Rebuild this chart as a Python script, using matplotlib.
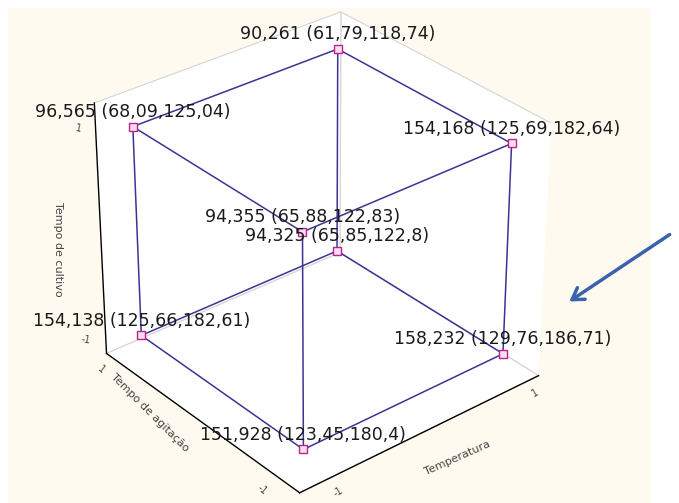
import itertools
import numpy as np
import matplotlib
matplotlib.use("Agg")
import matplotlib.pyplot as plt
from matplotlib.patches import Rectangle, FancyArrowPatch
from matplotlib.transforms import offset_copy
from mpl_toolkits.mplot3d import proj3d

# Coded factor levels of the 2^3 design (one entry per cube corner)
temperatura = [-1, 1, -1, 1, -1, 1, -1, 1]
tempo_agitacao = [-1, -1, 1, 1, -1, -1, 1, 1]
tempo_cultivo = [-1, -1, -1, -1, 1, 1, 1, 1]

# Predicted mean and confidence limits at each corner
media = [151.928, 158.232, 154.138, 94.325, 94.355, 154.168, 96.565, 90.261]
limite_inf = [123.45, 129.76, 125.66, 65.85, 65.88, 125.69, 68.09, 61.79]
limite_sup = [180.4, 186.71, 182.61, 122.8, 122.83, 182.64, 125.04, 118.74]

niveis = [-1, 1]
rotulos_niveis = ["-1", "1"]

plt.rcParams["font.family"] = ["DejaVu Sans"]


def br(v):
    return f"{v:g}".replace(".", ",")


fig = plt.figure(figsize=(6.79, 5.03), dpi=100)
fig.patch.set_facecolor("white")
fig.add_artist(Rectangle((8 / 679, 0), 643 / 679, 495 / 503,
                         transform=fig.transFigure, facecolor="#fefaef",
                         edgecolor="none", zorder=-10))

ax = fig.add_axes([-0.012, 0.005, 0.95, 1.0], projection="3d",
                  computed_zorder=False)
ax.patch.set_alpha(0)
ax.set_box_aspect((1, 1, 0.93), zoom=1.03)
ax.view_init(elev=31, azim=-129.7)
lim = (-1.2, 1.2)
ax.set_xlim(lim)
ax.set_ylim(lim)
ax.set_zlim(lim)
ax.grid(False)

for axis in (ax.xaxis, ax.yaxis, ax.zaxis):
    axis.set_pane_color((1, 1, 1, 1))
    axis.pane.set_edgecolor("#d4d4d4")
    axis.pane.set_linewidth(0.8)
    axis.line.set_color("black")
    axis.line.set_linewidth(1.0)
    axis.set_ticks(niveis)
    axis.set_ticklabels(["", ""])
ax.tick_params(axis="both", color=(0, 0, 0, 0))

# cube edges: corners differing in exactly one factor
pts = list(zip(temperatura, tempo_agitacao, tempo_cultivo))
for i, j in itertools.combinations(range(len(pts)), 2):
    if sum(a != b for a, b in zip(pts[i], pts[j])) == 1:
        ax.plot([pts[i][0], pts[j][0]], [pts[i][1], pts[j][1]],
                [pts[i][2], pts[j][2]], color="#3a3593", lw=1.1, zorder=2)

ax.plot(temperatura, tempo_agitacao, tempo_cultivo, ls="none", marker="s",
        ms=6, mec="#c0208a", mfc="#f8e0f2", mew=1.0, zorder=3)

# project points to the 2D plane of the axes once the layout is fixed
fig.canvas.draw()
M = ax.get_proj()


def project(xs, ys, zs):
    x2, y2, _ = proj3d.proj_transform(np.asarray(xs, float),
                                      np.asarray(ys, float),
                                      np.asarray(zs, float), M)
    return x2, y2


px, py = project(temperatura, tempo_agitacao, tempo_cultivo)
lbl_tr = offset_copy(ax.transData, fig=fig, x=0, y=4, units="points")
for x2, y2, m, lo, hi in zip(px, py, media, limite_inf, limite_sup):
    ax.text2D(x2, y2, f"{br(m)} ({br(lo)},{br(hi)})", ha="center",
              va="bottom", fontsize=12.5, color="#1a1a1a", transform=lbl_tr,
              zorder=4)


def place(xyz, text, dx, dy, rot, size):
    x2, y2 = project(*[[v] for v in xyz])
    tr = offset_copy(ax.transData, fig=fig, x=dx, y=dy, units="dots")
    ax.text2D(x2[0], y2[0], text, ha="center", va="center", rotation=rot,
              fontsize=size, color="#444444", transform=tr, zorder=4)


lo_, hi_ = lim
# tick labels along the three axis lines
for v, s in zip(niveis, rotulos_niveis):
    place((lo_, hi_, v), s, -17 if v > 0 else -20, -4 if v > 0 else -6, -10, 7)
    place((lo_, v, lo_), s, -20, -5 if v > 0 else -9, -40, 7)
    place((v, lo_, lo_), s, 17 if v < 0 else 15, -10 if v < 0 else -8, 30, 7)

# axis titles
place((0.25, lo_, lo_), "Temperatura", 10, -38, 24, 8)
place((lo_, 0.48, lo_), "Tempo de agitação", -12, -20, -45, 8)
place((lo_, hi_, -0.17), "Tempo de cultivo", -43, 0, -90, 8)

fig.add_artist(FancyArrowPatch(
    (672 / 679, 1 - 233 / 503), (567 / 679, 1 - 303 / 503),
    transform=fig.transFigure, arrowstyle="->,head_length=8,head_width=5",
    color="#3b62ad", lw=2.5))

fig.savefig("out.png", dpi=100)
